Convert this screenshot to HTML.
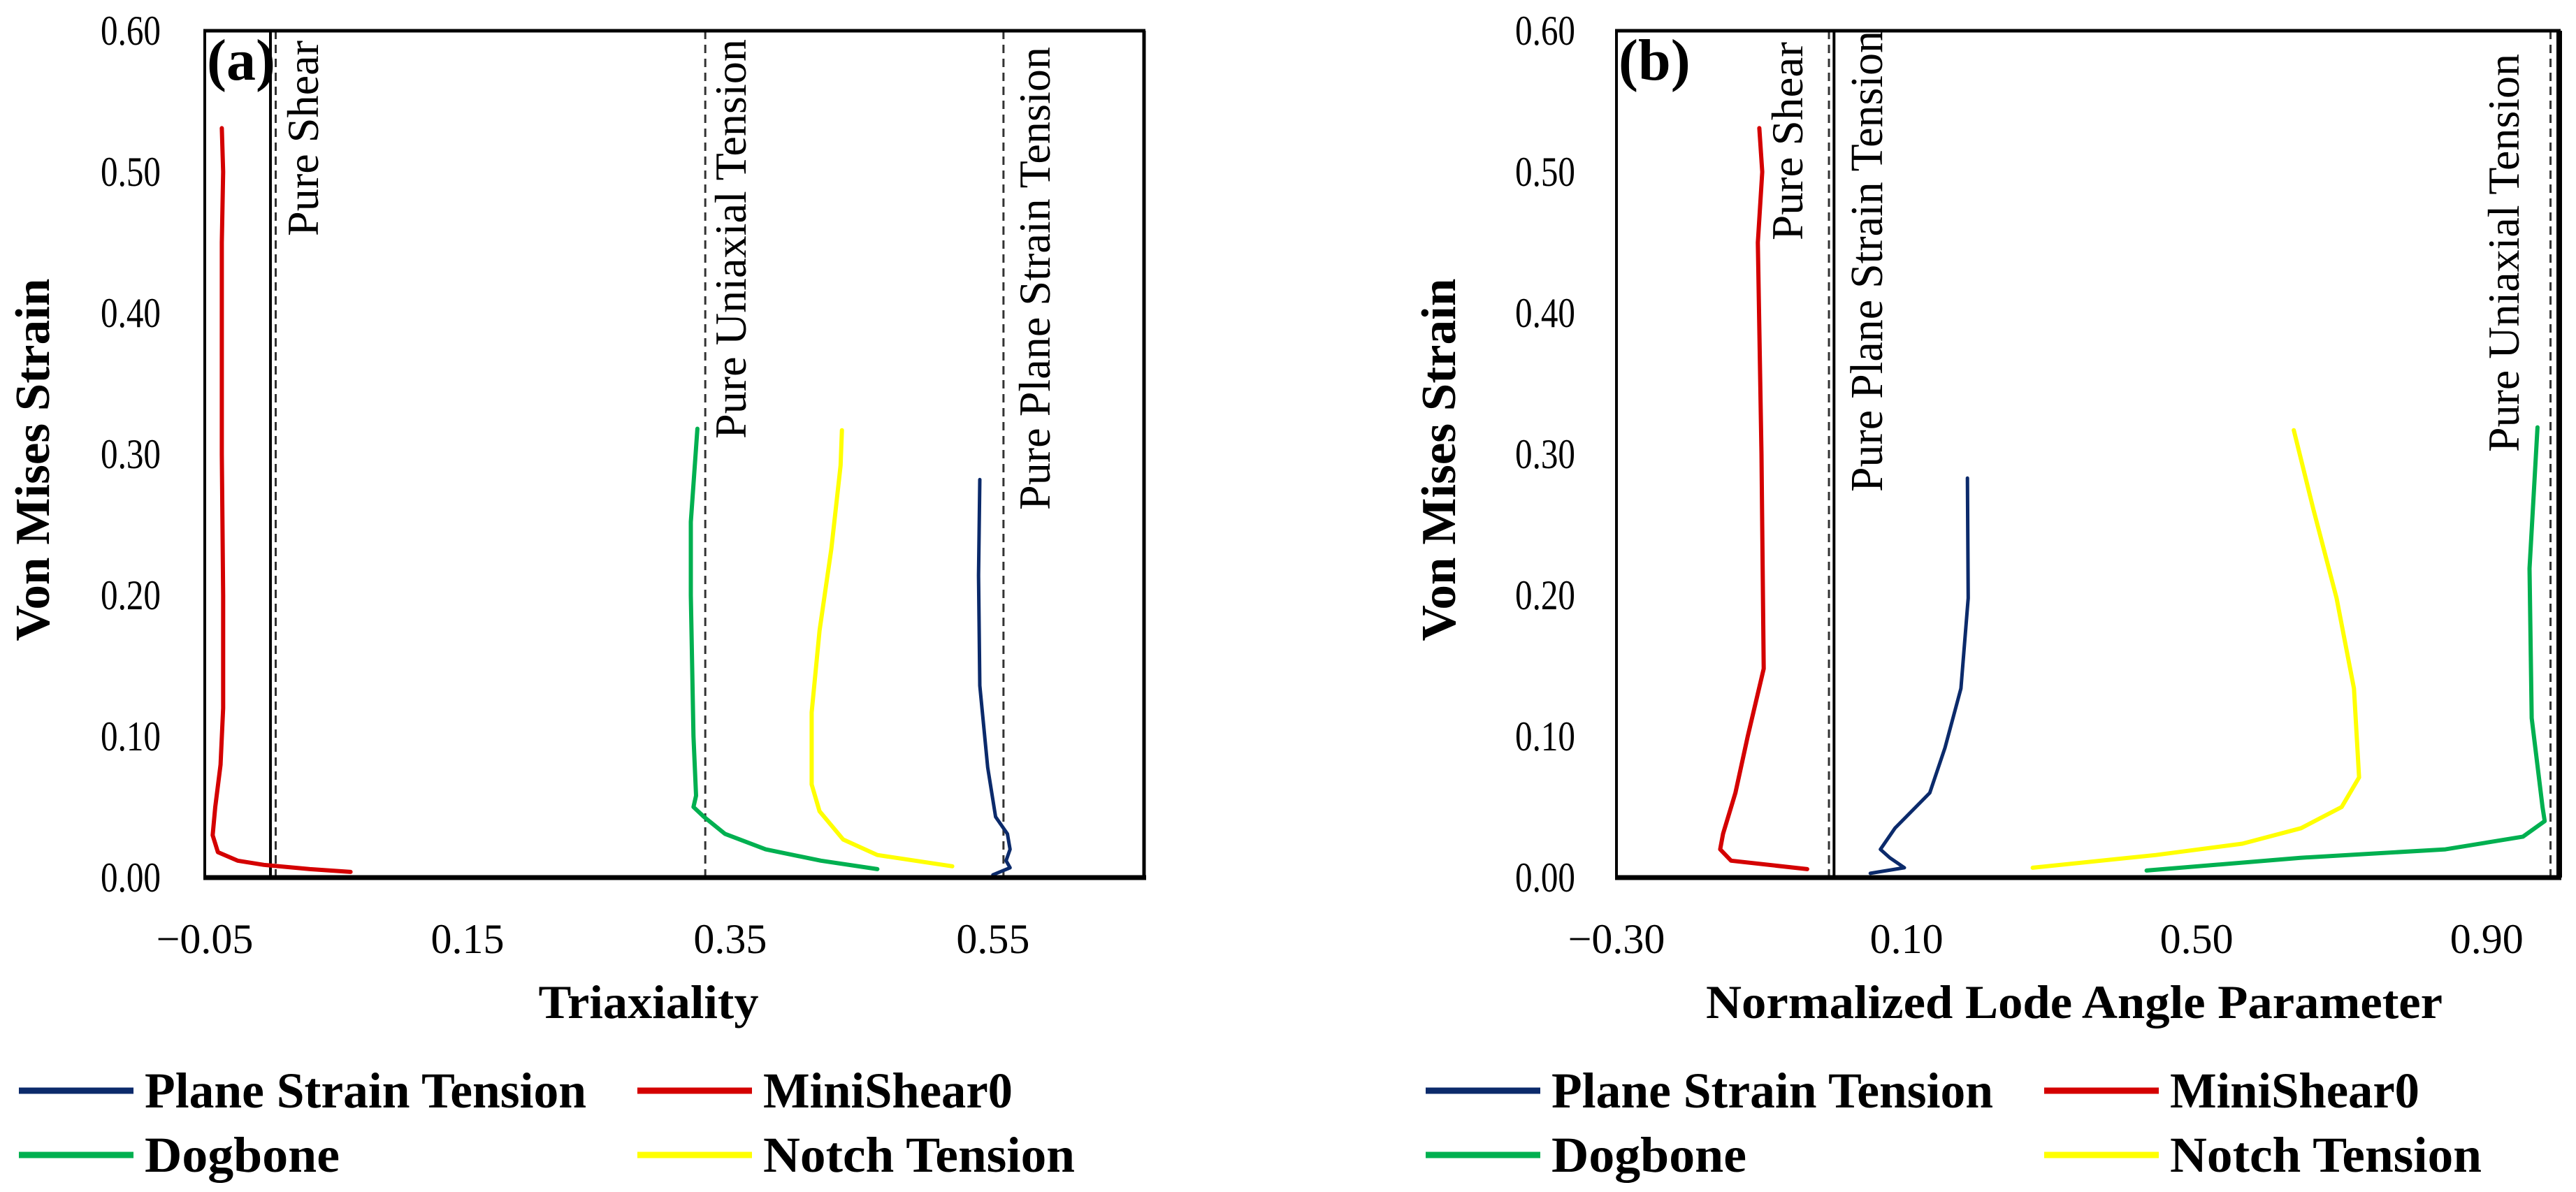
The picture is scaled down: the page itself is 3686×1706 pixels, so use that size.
<!DOCTYPE html>
<html><head><meta charset="utf-8">
<style>
html,body{margin:0;padding:0;background:#fff;}
svg{display:block;}
text{font-family:"Liberation Serif",serif;fill:#000;}
</style></head>
<body>
<svg id="chart" width="3686" height="1706" viewBox="0 0 3686 1706" xmlns="http://www.w3.org/2000/svg">
<rect x="0" y="0" width="3686" height="1706" fill="#fff"/>
<g id="pa"></g>
<g id="pb"></g>
</svg>
<script>
// ---------- Data ----------
const yTicks = [0, 0.1, 0.2, 0.3, 0.4, 0.5, 0.6];
const yTickLabels = ["0.00","0.10","0.20","0.30","0.40","0.50","0.60"];

const aTicks = [-0.05, 0.15, 0.35, 0.55];
const aTickLabels = ["\u22120.05","0.15","0.35","0.55"];
const aPST = [[0.540,0.282],[0.539,0.214],[0.540,0.136],[0.546,0.078],[0.552,0.043],[0.561,0.031],[0.563,0.020],[0.560,0.012],[0.563,0.007],[0.550,0.002]];
const aShear = [[-0.037,0.531],[-0.036,0.50],[-0.037,0.45],[-0.037,0.30],[-0.036,0.20],[-0.036,0.12],[-0.038,0.08],[-0.042,0.05],[-0.044,0.03],[-0.040,0.018],[-0.025,0.012],[-0.005,0.009],[0.03,0.006],[0.061,0.004]];
const aDog = [[0.325,0.318],[0.320,0.252],[0.320,0.20],[0.321,0.15],[0.322,0.10],[0.324,0.058],[0.322,0.05],[0.330,0.043],[0.346,0.031],[0.377,0.020],[0.419,0.012],[0.462,0.006]];
const aNotch = [[0.435,0.317],[0.434,0.292],[0.427,0.233],[0.418,0.175],[0.412,0.117],[0.412,0.066],[0.418,0.047],[0.436,0.027],[0.462,0.016],[0.519,0.008]];

const bTicks = [-0.3, 0.1, 0.5, 0.9];
const bTickLabels = ["\u22120.30","0.10","0.50","0.90"];
const bPST = [[0.184,0.283],[0.185,0.198],[0.175,0.134],[0.153,0.092],[0.132,0.060],[0.084,0.035],[0.064,0.020],[0.077,0.014],[0.097,0.007],[0.050,0.003]];
const bShear = [[-0.103,0.531],[-0.099,0.50],[-0.105,0.45],[-0.100,0.30],[-0.097,0.148],[-0.119,0.10],[-0.136,0.060],[-0.153,0.031],[-0.157,0.020],[-0.142,0.012],[-0.037,0.006]];
const bDog = [[0.970,0.319],[0.959,0.219],[0.962,0.113],[0.977,0.050],[0.980,0.040],[0.950,0.029],[0.843,0.020],[0.643,0.014],[0.431,0.005]];
const bNotch = [[0.634,0.317],[0.661,0.261],[0.693,0.198],[0.717,0.134],[0.724,0.071],[0.700,0.050],[0.644,0.035],[0.563,0.024],[0.444,0.016],[0.274,0.007]];

const legendNames = ["Plane Strain Tension","MiniShear0","Dogbone","Notch Tension"];
const colors = ["#0b2a6b","#d40000","#00b050","#ffff00"];
const legendWidths = [632, 357, 279, 446];

// ---------- Helpers ----------
const NS = "http://www.w3.org/2000/svg";
function mk(tag, attrs, parent){
  const e = document.createElementNS(NS, tag);
  for (const k in attrs) e.setAttribute(k, attrs[k]);
  parent.appendChild(e);
  return e;
}
function path(pts, X, Y){
  return pts.map((p,i)=>(i?"L":"M")+X(p[0]).toFixed(1)+","+Y(p[1]).toFixed(1)).join(" ");
}

function panel(g, cfg){
  const L=cfg.left, R=cfg.right, T=44, B=1256;
  const X = v => L + (v - cfg.xmin)/(cfg.xmax - cfg.xmin)*(R-L);
  const Y = v => B - v/0.6*(B-T);

  let e;
  e = mk("line",{x1:X(0),x2:X(0),y1:T,y2:B,stroke:"#000","stroke-width":4},g);
  
  
  cfg.refs.forEach(r=>{
    const l = mk("line",{x1:X(r.x),x2:X(r.x),y1:T,y2:B,stroke:"#333","stroke-width":3,"stroke-dasharray":"12 8"},g);
    
    
    const t = mk("text",{x:0,y:0,"font-size":64,"text-anchor":"end",
      transform:"translate("+(r.tx)+","+(r.ty)+") rotate(-90)",textLength:r.len,lengthAdjust:"spacingAndGlyphs"},g);
    t.textContent = r.label;
    
    
  });

  cfg.series.forEach((s,i)=>{
    const p = mk("path",{d:path(s,X,Y),fill:"none",stroke:colors[i],"stroke-width":i===0?5:6,"stroke-linejoin":"round","stroke-linecap":"round"},g);
    
    
  });

  e = mk("line",{x1:L,x2:L,y1:T-2,y2:B,stroke:"#000","stroke-width":4},g);
  
  
  e = mk("line",{x1:L-2,x2:R+2,y1:T,y2:T,stroke:"#000","stroke-width":5},g);
  
  
  e = mk("line",{x1:R,x2:R,y1:T,y2:B,stroke:"#000","stroke-width":cfg.rightW},g);
  
  
  e = mk("line",{x1:L-2,x2:R+3,y1:B,y2:B,stroke:"#000","stroke-width":7},g);
  
  

  yTicks.forEach((v,i)=>{
    const t = mk("text",{x:cfg.yLabelX,y:Y(v)+20,"font-size":60,"text-anchor":"end",textLength:86,lengthAdjust:"spacingAndGlyphs"},g);
    t.textContent = yTickLabels[i];
    
    
  });
  cfg.xTicks.forEach((v,i)=>{
    const t = mk("text",{x:X(v),y:1364,"font-size":60,"text-anchor":"middle"},g);
    t.textContent = cfg.xTickLabels[i];
    
    
  });

  let t = mk("text",{x:0,y:0,"font-size":70,"font-weight":"bold","text-anchor":"middle",
    transform:"translate("+(cfg.yTitleX)+",658) rotate(-90)",textLength:519,lengthAdjust:"spacingAndGlyphs"},g);
  t.textContent = "Von Mises Strain";
  
  
  t = mk("text",{x:cfg.xTitleX,y:1457,"font-size":68,"font-weight":"bold","text-anchor":"middle",textLength:cfg.xTitleLen,lengthAdjust:"spacingAndGlyphs"},g);
  t.textContent = cfg.xTitle;
  
  

  t = mk("text",{x:L+3,y:114,"font-size":84,"font-weight":"bold"},g);
  t.textContent = cfg.letter;
  
  

  const lx = [cfg.legX1, cfg.legX2], ly=[1561,1653];
  legendNames.forEach((n,i)=>{
    const cx = lx[i%2], cy = ly[Math.floor(i/2)];
    const lg = mk("g",{},g);
    
    
    mk("line",{x1:cx,x2:cx+164,y1:cy,y2:cy,stroke:colors[i],"stroke-width":9},lg);
    const tt = mk("text",{x:cx+180,y:cy+24,"font-size":72,"font-weight":"bold",textLength:legendWidths[i],lengthAdjust:"spacingAndGlyphs"},lg);
    tt.textContent = n;
  });
}

panel(document.getElementById("pa"), {
  left:293, right:1637, xmin:-0.05, xmax:0.665,
  xTicks:aTicks, xTickLabels:aTickLabels,
  series:[aPST,aShear,aDog,aNotch],
  refs:[
    {x:0.004, name:"pure-shear", label:"Pure Shear", tx:455, ty:58, len:280},
    {x:0.331, name:"pure-uniaxial-tension", label:"Pure Uniaxial Tension", tx:1067, ty:56, len:572},
    {x:0.558, name:"pure-plane-strain-tension", label:"Pure Plane Strain Tension", tx:1502, ty:67, len:663}
  ],
  yLabelX:230, yTitleX:70, rightW:5, letter:"(a)",
  xTitle:"Triaxiality", xTitleX:928, xTitleLen:315,
  legX1:27, legX2:912
});
panel(document.getElementById("pb"), {
  left:2313, right:3662, xmin:-0.3, xmax:1.0,
  xTicks:bTicks, xTickLabels:bTickLabels,
  series:[bPST,bShear,bDog,bNotch],
  refs:[
    {x:-0.007, name:"pure-shear", label:"Pure Shear", tx:2579, ty:60, len:284},
    {x:0.988, name:"pure-uniaxial-tension", label:"Pure Uniaxial Tension", tx:3604, ty:77, len:570}
  ],
  yLabelX:2254, yTitleX:2082, rightW:8, letter:"(b)",
  xTitle:"Normalized Lode Angle Parameter", xTitleX:2968, xTitleLen:1054,
  legX1:2040, legX2:2925
});
(function(){
  const g = document.getElementById("pb");
  const t = document.createElementNS(NS,"text");
  t.setAttribute("x",0); t.setAttribute("y",0);
  t.setAttribute("font-size",66);
  t.setAttribute("text-anchor","end");
  t.setAttribute("textLength",660);
  t.setAttribute("lengthAdjust","spacingAndGlyphs");
  t.setAttribute("transform","translate(2693,44) rotate(-90)");
  t.textContent = "Pure Plane Strain Tension";
  
  
  g.appendChild(t);
})();
</script>
</body></html>
